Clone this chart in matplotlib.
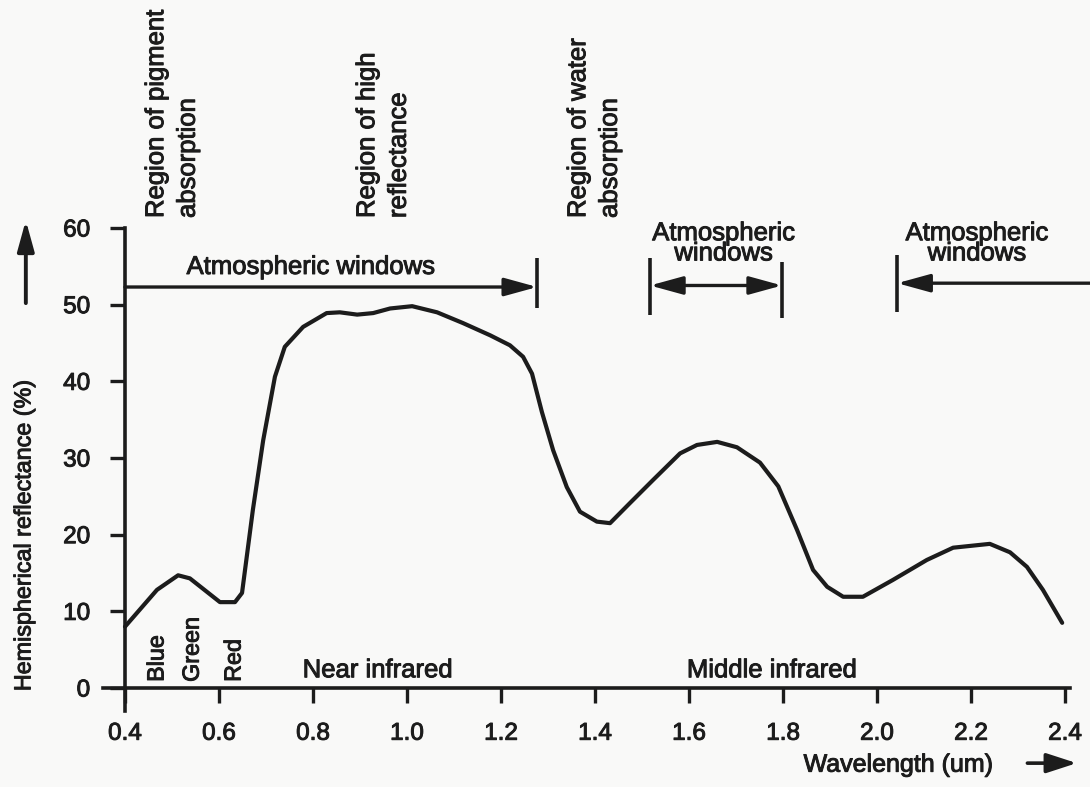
import matplotlib
matplotlib.use("Agg")
import matplotlib.pyplot as plt
from matplotlib import font_manager as fm
from matplotlib import patheffects as pe

# ---------------- data ----------------
wavelength = [0.40, 0.468, 0.513, 0.538, 0.602, 0.634, 0.649, 0.672, 0.694, 0.719,
              0.740, 0.779, 0.829, 0.857, 0.894, 0.928, 0.964, 1.011, 1.064, 1.119,
              1.177, 1.219, 1.247, 1.266, 1.287, 1.311, 1.340, 1.368, 1.404, 1.432,
              1.474, 1.523, 1.581, 1.617, 1.660, 1.702, 1.751, 1.790, 1.830, 1.864,
              1.894, 1.928, 1.970, 2.034, 2.106, 2.162, 2.240, 2.283, 2.319, 2.353,
              2.394]
reflectance = [8.0, 12.8, 14.7, 14.3, 11.2, 11.2, 12.4, 23.2, 32.3, 40.6,
               44.5, 47.1, 48.9, 49.0, 48.7, 48.9, 49.5, 49.8, 49.0, 47.6,
               46.0, 44.7, 43.2, 41.0, 36.0, 31.0, 26.2, 23.0, 21.7, 21.5,
               24.1, 27.1, 30.6, 31.7, 32.1, 31.4, 29.4, 26.3, 20.6, 15.4,
               13.2, 11.9, 11.9, 14.1, 16.7, 18.3, 18.8, 17.7, 15.8, 12.8,
               8.5]
x_ticks = [0.4, 0.6, 0.8, 1.0, 1.2, 1.4, 1.6, 1.8, 2.0, 2.2, 2.4]
x_tick_labels = ["0.4", "0.6", "0.8", "1.0", "1.2", "1.4", "1.6", "1.8", "2.0", "2.2", "2.4"]
y_ticks = [0, 10, 20, 30, 40, 50, 60]
y_tick_labels = ["0", "10", "20", "30", "40", "50", "60"]

band_labels = ["Blue", "Green", "Red"]
band_x = [0.468, 0.543, 0.632]
region_labels = ["Near infrared", "Middle infrared"]
region_x = [0.938, 1.777]
top_labels = ["Region of pigment\nabsorption", "Region of high\nreflectance",
              "Region of water\nabsorption"]
top_x = [0.50, 0.949, 1.398]
window_bar_x = [1.277, 1.517, 1.798, 2.043]
window_bar_lo = [49.6, 48.6, 48.2, 49.0]
window_bar_hi = [56.1, 56.1, 55.5, 56.5]

# ---------------- style ----------------
BG = "#f9f9f8"
INK = "#1c1c1c"
names = {f.name for f in fm.fontManager.ttflist}
SANS = "Liberation Sans" if "Liberation Sans" in names else "DejaVu Sans"
if "Liberation Sans Narrow" in names:
    NARROW, NSCALE = "Liberation Sans Narrow", 1.0
else:
    NARROW, NSCALE = SANS, 0.84
THICK = [pe.withStroke(linewidth=0.7, foreground=INK)]

W, H = 1090, 787
fig = plt.figure(figsize=(W / 100, H / 100), dpi=100, facecolor=BG)
x0, x1 = 0.3532, 2.41
y0, y1 = -3.0, 60.0
pxu, pyu = 470.0, 7.667
left_px = 125 + (x0 - 0.4) * pxu
bot_px = 688 - y0 * pyu
top_px = 688 - y1 * pyu
ax = fig.add_axes([left_px / W, (H - bot_px) / H, (x1 - x0) * pxu / W, (bot_px - top_px) / H])
ax.set_facecolor(BG)
ax.set_xlim(x0, x1)
ax.set_ylim(y0, y1)

for s in ("top", "right"):
    ax.spines[s].set_visible(False)
ax.spines["left"].set_position(("data", 0.4))
ax.spines["bottom"].set_position(("data", 0))
for s in ("left", "bottom"):
    ax.spines[s].set_linewidth(2.6)
    ax.spines[s].set_color(INK)

ax.set_xticks(x_ticks)
ax.set_xticklabels(x_tick_labels)
ax.set_yticks(y_ticks)
ax.set_yticklabels(y_tick_labels)
ax.tick_params(axis="both", direction="out", length=11, width=2.4, colors=INK,
               labelsize=17.5)
ax.tick_params(axis="x", pad=14)
ax.tick_params(axis="y", pad=14)
for lab in ax.get_xticklabels() + ax.get_yticklabels():
    lab.set_fontfamily(SANS)
    lab.set_path_effects(THICK)

# curve
ax.plot(wavelength, reflectance, color=INK, lw=3.0, solid_joinstyle="round",
        solid_capstyle="round", clip_on=False)

# band labels
for lab, bx in zip(band_labels, band_x):
    ax.text(bx, 0.8, lab, rotation=90, ha="center", va="bottom",
            fontsize=20 * NSCALE, family=NARROW, color=INK, path_effects=THICK)
for lab, rx in zip(region_labels, region_x):
    ax.text(rx, 1.4, lab, ha="center", va="baseline", fontsize=18.5,
            family=SANS, color=INK, path_effects=THICK)

# top region labels
for lab, tx in zip(top_labels, top_x):
    ax.text(tx, 61.3, lab, rotation=90, ha="center", va="bottom",
            multialignment="left", linespacing=1.4,
            fontsize=22 * NSCALE, family=NARROW, color=INK, clip_on=False,
            path_effects=THICK)

# atmospheric windows
ax.vlines(window_bar_x, window_bar_lo, window_bar_hi, color=INK, lw=2.6,
          clip_on=False)
arrow_kw = dict(arrowstyle="-|>,head_length=0.4,head_width=0.11",
                color=INK, lw=2.4, mutation_scale=50, shrinkA=0, shrinkB=0)
ax.annotate("", xy=(window_bar_x[0], 52.3), xytext=(0.4, 52.3),
            arrowprops=arrow_kw, annotation_clip=False)
ax.annotate("", xy=(window_bar_x[2], 52.5), xytext=(window_bar_x[1], 52.5),
            arrowprops=dict(arrow_kw, arrowstyle="<|-|>,head_length=0.4,head_width=0.11"),
            annotation_clip=False)
ax.annotate("", xy=(window_bar_x[3], 52.8), xytext=(2.47, 52.8),
            arrowprops=arrow_kw, annotation_clip=False)
ax.text(0.796, 54.0, "Atmospheric windows", ha="center", va="baseline",
        fontsize=18.5, family=SANS, color=INK, path_effects=THICK)
ax.text(1.674, 58.0, "Atmospheric\nwindows", ha="center", va="center",
        linespacing=0.8, fontsize=18.5, family=SANS, color=INK, clip_on=False,
        path_effects=THICK)
ax.text(2.213, 58.0, "Atmospheric\nwindows", ha="center", va="center",
        linespacing=0.8, fontsize=18.5, family=SANS, color=INK, clip_on=False,
        path_effects=THICK)

# axis labels with arrows
ax.text(0.185, 20.0, "Hemispherical reflectance (%)", rotation=90, ha="center",
        va="center", fontsize=20 * NSCALE, family=NARROW, color=INK, clip_on=False,
        path_effects=THICK)
ax.annotate("", xy=(0.189, 61.0), xytext=(0.189, 50.2),
            arrowprops=dict(arrow_kw, mutation_scale=46, lw=2.8), annotation_clip=False)
ax.text(2.247, -10.0, "Wavelength (um)", ha="right", va="center",
        fontsize=18, family=SANS, color=INK, clip_on=False, path_effects=THICK)
ax.annotate("", xy=(2.425, -9.8), xytext=(2.32, -9.8),
            arrowprops=dict(arrow_kw, mutation_scale=46, lw=2.6,
                            arrowstyle="-|>,head_length=0.4,head_width=0.13"),
            annotation_clip=False)

fig.savefig("out.png", dpi=100, facecolor=BG)
